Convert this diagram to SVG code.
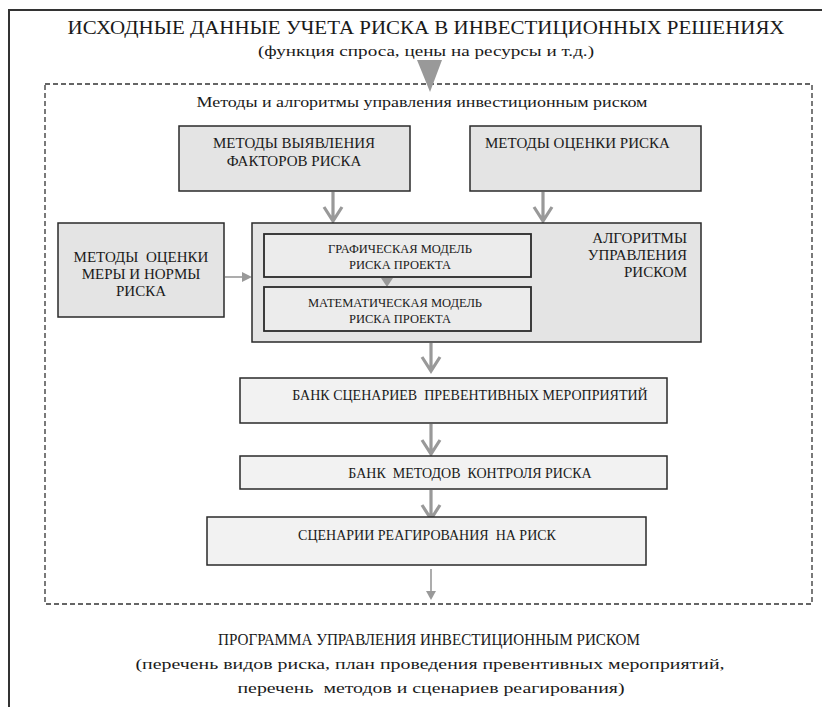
<svg xmlns="http://www.w3.org/2000/svg" width="822" height="707" viewBox="0 0 822 707" font-family="'Liberation Serif', 'DejaVu Serif', serif">
<style>
text{font-family:'Liberation Serif','DejaVu Serif',serif;fill:#1a1a1a}
.box{fill:#e4e4e4;stroke:#2a2a2a;stroke-width:1.5}
.lbox{fill:#f2f2f2;stroke:#2a2a2a;stroke-width:1.5}
.inner{fill:#ececec;stroke:#2a2a2a;stroke-width:1.8}
.arr{fill:none;stroke:#999;stroke-width:3.2}
.thin{fill:none;stroke:#999;stroke-width:1.6}
.head{fill:#999}
.t15{font-size:15px}
.t14{font-size:14px}
.t12{font-size:12.5px}
</style>
<rect width="822" height="707" fill="#fff"/>
<path d="M9,707 V10 H822" fill="none" stroke="#333" stroke-width="2"/>
<rect x="45" y="84" width="767" height="520" fill="none" stroke="#333" stroke-width="1.3" stroke-dasharray="5,3"/>

<g id="title">
<text x="426" y="34" font-size="18" text-anchor="middle" textLength="717" lengthAdjust="spacingAndGlyphs">ИСХОДНЫЕ ДАННЫЕ УЧЕТА РИСКА В ИНВЕСТИЦИОННЫХ РЕШЕНИЯХ</text>
<text x="426" y="56" font-size="15" text-anchor="middle" textLength="336" lengthAdjust="spacingAndGlyphs">(функция спроса, цены на ресурсы и т.д.)</text>
</g>
<g id="frame-label">
<text x="422" y="107" font-size="15" text-anchor="middle" textLength="451" lengthAdjust="spacingAndGlyphs">Методы и алгоритмы управления инвестиционным риском</text>
</g>

<g id="connectors">
<polygon points="417,60 442,60 430,92" fill="#999"/>
<path class="arr" d="M333,192 V221 M324,207 L333,221 L342,207"/>
<path class="arr" d="M543,192 V221 M534,207 L543,221 L552,207"/>
<path class="arr" d="M431,343 V371 M422,357 L431,371 L440,357"/>
<path class="arr" d="M431,424 V454 M422,440 L431,454 L440,440"/>
<path class="arr" d="M431,490 V519 M422,505 L431,519 L440,505"/>
<path class="thin" d="M431,569 V592"/>
<polygon class="head" points="426,591 436,591 431,600"/>
<path class="thin" d="M225,277 H243"/>
<polygon class="head" points="242,272 252,277 242,282"/>
</g>

<g id="n-factors">
<rect class="box" x="179" y="126" width="231" height="65"/>
<text class="t15" x="294" y="148" text-anchor="middle">МЕТОДЫ ВЫЯВЛЕНИЯ</text>
<text class="t15" x="294" y="166" text-anchor="middle">ФАКТОРОВ РИСКА</text>
</g>
<g id="n-assess">
<rect class="box" x="470" y="126" width="231" height="65"/>
<text class="t15" x="485" y="148">МЕТОДЫ ОЦЕНКИ РИСКА</text>
</g>
<g id="n-measure">
<rect class="box" x="58" y="223" width="166" height="94"/>
<text class="t15" x="141" y="262" text-anchor="middle" xml:space="preserve">МЕТОДЫ  ОЦЕНКИ</text>
<text class="t15" x="141" y="279" text-anchor="middle">МЕРЫ И НОРМЫ</text>
<text class="t15" x="141" y="296" text-anchor="middle">РИСКА</text>
</g>
<g id="n-algo">
<rect class="box" x="252" y="223" width="449" height="119"/>
<text class="t15" x="687" y="243" text-anchor="end">АЛГОРИТМЫ</text>
<text class="t15" x="687" y="260" text-anchor="end">УПРАВЛЕНИЯ</text>
<text class="t15" x="687" y="277" text-anchor="end">РИСКОМ</text>
</g>
<g id="n-graph">
<rect class="inner" x="264" y="234" width="267" height="43"/>
<text class="t12" x="400" y="253" text-anchor="middle">ГРАФИЧЕСКАЯ МОДЕЛЬ</text>
<text class="t12" x="400" y="269" text-anchor="middle">РИСКА ПРОЕКТА</text>
</g>
<polygon class="head" points="381,278 393,278 387,287"/>
<g id="n-math">
<rect class="inner" x="264" y="287" width="267" height="44"/>
<text class="t12" x="395" y="307" text-anchor="middle">МАТЕМАТИЧЕСКАЯ МОДЕЛЬ</text>
<text class="t12" x="400" y="323" text-anchor="middle">РИСКА ПРОЕКТА</text>
</g>
<g id="n-bank1">
<rect class="lbox" x="240" y="378" width="427" height="45"/>
<text class="t14" x="470" y="400" text-anchor="middle" xml:space="preserve">БАНК СЦЕНАРИЕВ  ПРЕВЕНТИВНЫХ МЕРОПРИЯТИЙ</text>
</g>
<g id="n-bank2">
<rect class="lbox" x="240" y="456" width="427" height="33"/>
<text class="t14" x="470" y="478" text-anchor="middle" xml:space="preserve">БАНК  МЕТОДОВ  КОНТРОЛЯ РИСКА</text>
</g>
<g id="n-response">
<rect class="lbox" x="207" y="517" width="439" height="48"/>
<text class="t14" x="427" y="540" text-anchor="middle" xml:space="preserve">СЦЕНАРИИ РЕАГИРОВАНИЯ  НА РИСК</text>
</g>

<g id="result">
<text x="429" y="645" font-size="16" text-anchor="middle" textLength="422" lengthAdjust="spacingAndGlyphs">ПРОГРАММА УПРАВЛЕНИЯ ИНВЕСТИЦИОННЫМ РИСКОМ</text>
<text x="430" y="669" font-size="15" text-anchor="middle" textLength="589" lengthAdjust="spacingAndGlyphs">(перечень видов риска, план проведения превентивных мероприятий,</text>
<text x="431" y="693" font-size="15" text-anchor="middle" textLength="387" lengthAdjust="spacingAndGlyphs" xml:space="preserve">перечень  методов и сценариев реагирования)</text>
</g>
</svg>
